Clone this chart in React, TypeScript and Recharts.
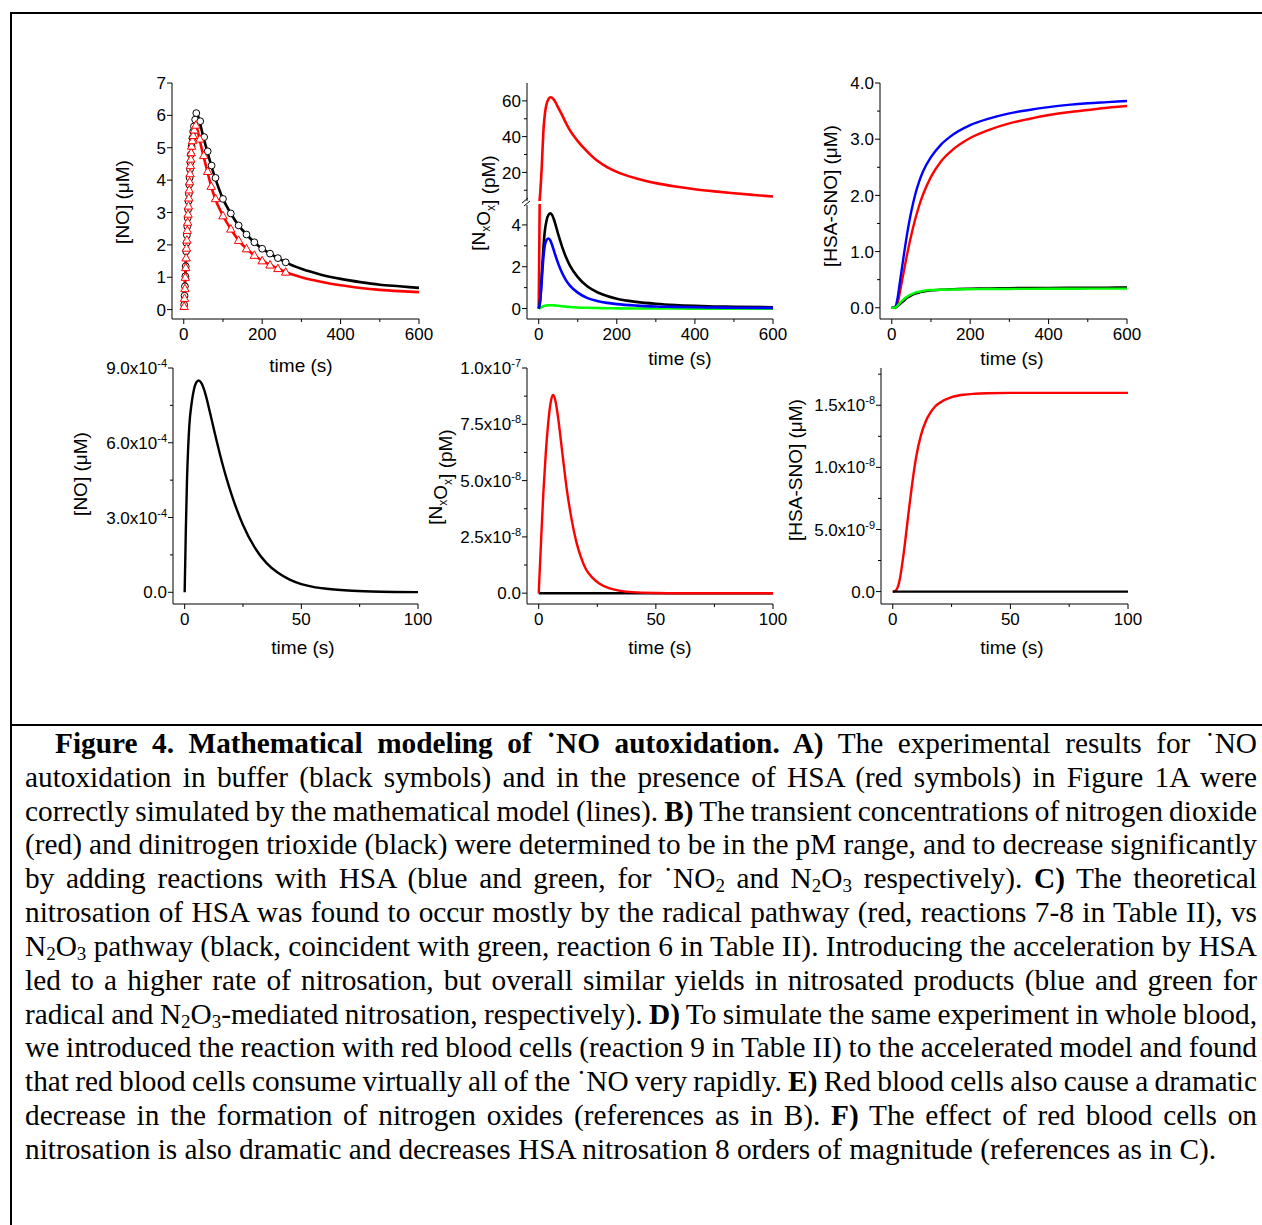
import React from 'react';
import { ComposedChart, Line, Scatter, XAxis, YAxis } from 'recharts';

const SANS = '"Liberation Sans", Arial, sans-serif';
const SERIF = '"Liberation Serif", "Times New Roman", serif';

// ---- Panel A: NO autoxidation, experiment (symbols) + model (lines)
const aLineT = [0, 5, 10, 15, 20, 25, 30, 35, 40, 50, 60, 70, 80, 100, 120, 140, 160, 180, 200, 220, 240, 260, 300, 350, 400, 450, 500, 550, 600];
const aBlackLine = [0, 1.35, 2.85, 4.07, 5.05, 5.6, 5.95, 6.02, 5.82, 5.33, 4.89, 4.45, 4.07, 3.42, 2.97, 2.6, 2.32, 2.08, 1.88, 1.73, 1.59, 1.46, 1.26, 1.08, 0.95, 0.85, 0.77, 0.72, 0.67];
const aRedLine = [0, 1.3, 2.7, 3.95, 5.05, 5.45, 5.68, 5.55, 5.27, 4.76, 4.27, 3.81, 3.43, 2.9, 2.49, 2.14, 1.88, 1.68, 1.51, 1.38, 1.27, 1.16, 1.0, 0.86, 0.75, 0.67, 0.61, 0.57, 0.54];
const aCircT = [1, 2, 3, 4, 5, 6, 7, 8, 9, 10, 11, 12, 13, 14, 15, 16, 17, 18, 20, 22, 24, 26, 29, 32, 42, 52, 61, 71, 81, 100, 120, 140, 160, 180, 200, 220, 240, 260];
const aCircV = [0.15, 0.43, 0.72, 1.03, 1.34, 1.8, 2.06, 2.3, 2.57, 2.83, 3.09, 3.35, 3.58, 3.86, 4.07, 4.33, 4.55, 4.79, 5.05, 5.3, 5.5, 5.66, 5.87, 6.07, 5.82, 5.33, 4.89, 4.45, 4.07, 3.42, 2.97, 2.6, 2.32, 2.08, 1.88, 1.73, 1.59, 1.46];
const aTriT = [1, 2, 3, 4, 5, 6, 7, 8, 9, 10, 11, 12, 13, 14, 15, 16, 17, 18, 19, 20, 22, 24, 27, 31, 41, 51, 61, 70, 81, 100, 120, 140, 160, 180, 200, 220, 240, 260];
const aTriV = [0.1, 0.35, 0.65, 1.0, 1.3, 1.6, 1.9, 2.15, 2.45, 2.7, 2.95, 3.2, 3.45, 3.7, 3.95, 4.2, 4.45, 4.65, 4.85, 5.05, 5.22, 5.38, 5.55, 5.7, 5.27, 4.76, 4.27, 3.81, 3.43, 2.9, 2.49, 2.14, 1.88, 1.68, 1.51, 1.38, 1.27, 1.16];

// ---- Panel B: NO2 / N2O3 (pM), broken axis
const bRedT = [0, 2, 4, 6, 8, 10, 12, 15, 18, 22, 26, 30, 35, 40, 50, 60, 70, 80, 100, 125, 150, 175, 200, 250, 300, 350, 400, 450, 500, 550, 600];
const bRed = [0, 4, 9, 16, 24, 34, 43, 51, 56, 59.5, 61.3, 62, 61.6, 60.3, 56.2, 52, 47.5, 43.5, 37.5, 31.5, 26.5, 23, 20.3, 16.6, 14, 12.1, 10.6, 9.4, 8.35, 7.4, 6.5];
const bT = [0, 3, 6, 9, 12, 15, 20, 25, 30, 35, 40, 50, 60, 70, 80, 100, 125, 150, 175, 200, 250, 300, 350, 400, 450, 500, 600];
const bBlack = [0, 0.3, 1.0, 2.0, 2.9, 3.6, 4.2, 4.48, 4.55, 4.45, 4.2, 3.55, 2.95, 2.45, 2.05, 1.5, 1.05, 0.78, 0.6, 0.47, 0.32, 0.23, 0.17, 0.13, 0.1, 0.085, 0.06];
const bBlue = [0, 0.25, 0.85, 1.7, 2.45, 2.95, 3.28, 3.35, 3.25, 3.0, 2.7, 2.15, 1.7, 1.35, 1.1, 0.76, 0.5, 0.36, 0.27, 0.21, 0.14, 0.1, 0.08, 0.06, 0.05, 0.04, 0.03];
const bGreen = [0, 0.02, 0.05, 0.08, 0.11, 0.13, 0.15, 0.16, 0.16, 0.155, 0.15, 0.13, 0.11, 0.09, 0.075, 0.05, 0.035, 0.025, 0.015, 0.01, 0.005, 0, 0, -0.005, -0.01, -0.01, -0.01];

// ---- Panel C: HSA-SNO (uM)
const cT = [0, 5, 10, 15, 20, 30, 40, 50, 60, 70, 80, 100, 125, 150, 200, 250, 300, 350, 400, 450, 500, 550, 600];
const cBlue = [0, 0, 0.03, 0.18, 0.42, 0.9, 1.35, 1.72, 2.02, 2.25, 2.43, 2.68, 2.9, 3.05, 3.25, 3.37, 3.46, 3.52, 3.57, 3.61, 3.64, 3.66, 3.68];
const cRed = [0, 0, 0.01, 0.08, 0.25, 0.62, 0.98, 1.3, 1.58, 1.82, 2.02, 2.33, 2.6, 2.78, 3.02, 3.17, 3.28, 3.36, 3.43, 3.48, 3.52, 3.56, 3.59];
const cBlack = [0, 0, 0.005, 0.03, 0.06, 0.12, 0.18, 0.22, 0.25, 0.27, 0.29, 0.31, 0.32, 0.33, 0.34, 0.345, 0.35, 0.352, 0.354, 0.356, 0.358, 0.359, 0.36];
const cGreen = [0, 0, 0.01, 0.04, 0.08, 0.15, 0.2, 0.24, 0.27, 0.285, 0.3, 0.315, 0.32, 0.325, 0.33, 0.333, 0.335, 0.337, 0.338, 0.339, 0.34, 0.34, 0.34];

// ---- Panel D: NO with red blood cells
const dT = [0, 0.5, 1, 1.5, 2, 3, 4, 5, 6, 7, 8, 9, 10, 11, 12, 13, 14, 15, 16, 18, 20, 25, 30, 35, 40, 45, 50, 55, 60, 70, 80, 90, 100];
const dNO = [0, 2.5e-4, 4.5e-4, 5.8e-4, 6.7e-4, 7.6e-4, 8.15e-4, 8.42e-4, 8.5e-4, 8.42e-4, 8.22e-4, 7.92e-4, 7.55e-4, 7.15e-4, 6.75e-4, 6.35e-4, 5.96e-4, 5.58e-4, 5.22e-4, 4.55e-4, 3.95e-4, 2.7e-4, 1.8e-4, 1.18e-4, 0.78e-4, 0.51e-4, 0.33e-4, 0.22e-4, 0.15e-4, 0.07e-4, 0.03e-4, 0.012e-4, 0.005e-4];

// ---- Panel E: NxOx with red blood cells
const eT = [0, 1, 2, 3, 4, 5, 6, 7, 8, 9, 10, 12, 14, 16, 18, 20, 23, 26, 30, 35, 40, 50, 60, 80, 100];
const eRed = [0, 2.3e-8, 4.5e-8, 6.2e-8, 7.5e-8, 8.4e-8, 8.8e-8, 8.6e-8, 8.0e-8, 7.2e-8, 6.3e-8, 4.6e-8, 3.3e-8, 2.3e-8, 1.6e-8, 1.1e-8, 0.68e-8, 0.42e-8, 0.22e-8, 0.1e-8, 0.045e-8, 0.01e-8, 0, 0, 0];
const eBlackT = [0, 100];
const eBlack = [0, 0];

// ---- Panel F: HSA-SNO with red blood cells
const fT = [0, 1, 2, 3, 4, 5, 6, 7, 8, 9, 10, 12, 14, 16, 18, 20, 25, 30, 35, 40, 50, 60, 80, 100];
const fRed = [0, 0.005e-8, 0.03e-8, 0.1e-8, 0.22e-8, 0.36e-8, 0.52e-8, 0.68e-8, 0.83e-8, 0.97e-8, 1.09e-8, 1.26e-8, 1.37e-8, 1.44e-8, 1.49e-8, 1.52e-8, 1.565e-8, 1.585e-8, 1.593e-8, 1.597e-8, 1.6e-8, 1.6e-8, 1.6e-8, 1.6e-8];
const fBlackT = [0, 100];
const fBlack = [0, 0];

// ---- ticks
const x600Ticks = [0, 200, 400, 600];
const x600Labels = ['0', '200', '400', '600'];
const x600Minor = [100, 300, 500];
const x100Ticks = [0, 50, 100];
const x100Labels = ['0', '50', '100'];
const x100Minor = [25, 75];

const aYTicks = [0, 1, 2, 3, 4, 5, 6, 7];
const aYLabels = ['0', '1', '2', '3', '4', '5', '6', '7'];
const bUpTicks = [20, 40, 60];
const bUpLabels = ['20', '40', '60'];
const bUpMinor = [10, 30, 50];
const bLoTicks = [0, 2, 4];
const bLoLabels = ['0', '2', '4'];
const bLoMinor = [1, 3];
const cYTicks = [0, 1, 2, 3, 4];
const cYLabels = ['0.0', '1.0', '2.0', '3.0', '4.0'];
const cYMinor = [0.5, 1.5, 2.5, 3.5];
const dYTicks = [0, 3e-4, 6e-4, 9e-4];
const dYLabels = ['0.0', '3.0x10^-4', '6.0x10^-4', '9.0x10^-4'];
const dYMinor = [1.5e-4, 4.5e-4, 7.5e-4];
const eYTicks = [0, 2.5e-8, 5e-8, 7.5e-8, 1e-7];
const eYLabels = ['0.0', '2.5x10^-8', '5.0x10^-8', '7.5x10^-8', '1.0x10^-7'];
const eYMinor = [1.25e-8, 3.75e-8, 6.25e-8, 8.75e-8];
const fYTicks = [0, 5e-9, 1e-8, 1.5e-8];
const fYLabels = ['0.0', '5.0x10^-9', '1.0x10^-8', '1.5x10^-8'];
const fYMinor = [2.5e-9, 7.5e-9, 1.25e-8, 1.75e-8];

const pts = (t: number[], v: number[]) => t.map((x, i) => ({ t: x, v: v[i] }));

type Ax = { ticks: number[]; labels: string[]; minor: number[] };

const TICK_FS = 17;

const TickText = ({ text, ...rest }: any) => {
  const [base, exp] = text.split('^');
  return (
    <text {...rest} fontFamily={SANS} fontSize={TICK_FS} fill="#000">
      {base}
      {exp && (
        <tspan dy={-7} fontSize={11}>
          {exp}
        </tspan>
      )}
    </text>
  );
};

const findLabel = (ax: Ax, v: number) => {
  const i = ax.ticks.findIndex((m) => Math.abs(m - v) <= Math.abs(m) * 1e-9 + 1e-300);
  return i >= 0 ? ax.labels[i] : null;
};

const yTick = (ax: Ax) => (p: any) => {
  const lab = findLabel(ax, p.payload.value);
  const len = lab !== null ? 5 : 3;
  return (
    <g>
      <line x1={p.x - len} x2={p.x} y1={p.y} y2={p.y} stroke="#000" />
      {lab !== null && <TickText text={lab} x={p.x - 6} y={p.y} dy="0.36em" textAnchor="end" />}
    </g>
  );
};

const xTick = (ax: Ax) => (p: any) => {
  const lab = findLabel(ax, p.payload.value);
  const len = lab !== null ? 5 : 3;
  return (
    <g>
      <line x1={p.x} x2={p.x} y1={p.y} y2={p.y + len} stroke="#000" />
      {lab !== null && <TickText text={lab} x={p.x} y={p.y + 15} dy="0.36em" textAnchor="middle" />}
    </g>
  );
};

const Circle = (p: any) => <circle cx={p.cx} cy={p.cy} r={3.4} fill="#fff" stroke="#000" strokeWidth={1} />;
const Tri = (p: any) => (
  <polygon
    points={`${p.cx},${p.cy - 4.4} ${p.cx - 4.2},${p.cy + 3.1} ${p.cx + 4.2},${p.cy + 3.1}`}
    fill="#fff"
    stroke="#f00"
    strokeWidth={1}
  />
);

type PanelProps = {
  x: number;
  y: number;
  w: number;
  h: number;
  xDom: number[];
  yDom: number[];
  xAx?: Ax;
  yAx: Ax;
  children: React.ReactNode;
};

const ML = 110;
const MT = 10;
const MR = 26;

function Panel({ x, y, w, h, xDom, yDom, xAx, yAx, children }: PanelProps) {
  const MB = xAx ? 40 : 0;
  return (
    <div style={{ position: 'absolute', left: x - ML, top: y - MT }}>
      <ComposedChart width={w + ML + MR} height={h + MT + MB} margin={{ top: MT, right: MR, bottom: 0, left: 0 }}>
        <XAxis
          type="number"
          dataKey="t"
          domain={xDom}
          allowDataOverflow
          hide={!xAx}
          height={MB}
          ticks={xAx ? [...xAx.ticks, ...xAx.minor].sort((a, b) => a - b) : undefined}
          interval={0}
          tickSize={0}
          tickMargin={0}
          tickLine={false}
          axisLine={{ stroke: '#000', strokeWidth: 1 }}
          tick={xAx ? xTick(xAx) : false}
        />
        <YAxis
          type="number"
          domain={yDom}
          allowDataOverflow
          width={ML}
          ticks={[...yAx.ticks, ...yAx.minor].sort((a, b) => a - b)}
          interval={0}
          tickSize={0}
          tickMargin={0}
          tickLine={false}
          axisLine={{ stroke: '#000', strokeWidth: 1 }}
          tick={yTick(yAx)}
        />
        {children}
      </ComposedChart>
    </div>
  );
}

const ln = (data: { t: number; v: number }[], color: string, w = 2.4) => (
  <Line
    data={data}
    dataKey="v"
    type="monotone"
    stroke={color}
    strokeWidth={w}
    dot={false}
    activeDot={false}
    isAnimationActive={false}
  />
);

const x600: Ax = { ticks: x600Ticks, labels: x600Labels, minor: x600Minor };
const x100: Ax = { ticks: x100Ticks, labels: x100Labels, minor: x100Minor };

const YTitle = ({ x, y, children }: any) => (
  <text transform={`translate(${x},${y}) rotate(-90)`} textAnchor="middle" dy="0.36em" fontFamily={SANS} fontSize={19} fill="#000">
    {children}
  </text>
);
const XTitle = ({ x, y }: any) => (
  <text x={x} y={y} textAnchor="middle" dy="0.36em" fontFamily={SANS} fontSize={19} fill="#000">
    time (s)
  </text>
);
const Sub = ({ c }: { c: string }) => (
  <>
    <tspan dy={5} fontSize={12}>
      {c}
    </tspan>
    <tspan dy={-5}>{''}</tspan>
  </>
);

const B = ({ children }: any) => <b>{children}</b>;
const S = ({ children }: any) => (
  <sub style={{ fontSize: '0.65em', verticalAlign: '-0.22em', lineHeight: 0 }}>{children}</sub>
);
// radical dot kept glued to NO so justification does not split them
const RNO = () => <span style={{ display: 'inline-block', textIndent: 0 }}>{'\u02D9'}NO</span>;

const captionLines: React.ReactNode[] = [
  <>
    <B>
      Figure 4. Mathematical modeling of <RNO /> autoxidation. A)
    </B>{' '}
    The experimental results for <RNO />
  </>,
  <>autoxidation in buffer (black symbols) and in the presence of HSA (red symbols) in Figure 1A were</>,
  <>
    correctly simulated by the mathematical model (lines). <B>B)</B> The transient concentrations of nitrogen dioxide
  </>,
  <>(red) and dinitrogen trioxide (black) were determined to be in the pM range, and to decrease significantly</>,
  <>
    by adding reactions with HSA (blue and green, for{' '}
    <span style={{ display: 'inline-block', textIndent: 0 }}>
      {'\u02D9'}NO<S>2</S>
    </span>{' '}
    and N<S>2</S>O<S>3</S> respectively). <B>C)</B> The theoretical
  </>,
  <>nitrosation of HSA was found to occur mostly by the radical pathway (red, reactions 7-8 in Table II), vs</>,
  <>
    N<S>2</S>O<S>3</S> pathway (black, coincident with green, reaction 6 in Table II). Introducing the acceleration by HSA
  </>,
  <>led to a higher rate of nitrosation, but overall similar yields in nitrosated products (blue and green for</>,
  <>
    radical and N<S>2</S>O<S>3</S>-mediated nitrosation, respectively). <B>D)</B> To simulate the same experiment in whole blood,
  </>,
  <>we introduced the reaction with red blood cells (reaction 9 in Table II) to the accelerated model and found</>,
  <>
    that red blood cells consume virtually all of the <RNO /> very rapidly. <B>E)</B> Red blood cells also cause a dramatic
  </>,
  <>
    decrease in the formation of nitrogen oxides (references as in B). <B>F)</B> The effect of red blood cells on
  </>,
  <>nitrosation is also dramatic and decreases HSA nitrosation 8 orders of magnitude (references as in C).</>,
];

export default function App() {
  return (
    <div style={{ position: 'absolute', left: 0, top: 0, width: 1262, height: 1225, background: '#fff', overflow: 'hidden' }}>
      {/* frame */}
      <div style={{ position: 'absolute', left: 10, top: 12, width: 1252, height: 2, background: '#000' }} />
      <div style={{ position: 'absolute', left: 10, top: 12, width: 2, height: 1213, background: '#000' }} />
      <div style={{ position: 'absolute', left: 10, top: 724, width: 1252, height: 2, background: '#000' }} />

      {/* A */}
      <Panel x={172} y={83} w={247} h={236} xDom={[-30, 600]} yDom={[-0.29, 7]} xAx={x600} yAx={{ ticks: aYTicks, labels: aYLabels, minor: [] }}>
        {ln(pts(aLineT, aBlackLine), '#000', 2.6)}
        {ln(pts(aLineT, aRedLine), '#f00', 2.6)}
        <Scatter data={pts(aCircT, aCircV)} dataKey="v" shape={Circle} isAnimationActive={false} />
        <Scatter data={pts(aTriT, aTriV)} dataKey="v" shape={Tri} isAnimationActive={false} />
      </Panel>

      {/* B upper */}
      <Panel x={527} y={83} w={246} h={118} xDom={[-30, 600]} yDom={[4, 70]} yAx={{ ticks: bUpTicks, labels: bUpLabels, minor: bUpMinor }}>
        {ln(pts(bRedT, bRed), '#f00', 2.6)}
      </Panel>
      {/* B lower */}
      <Panel x={527} y={204} w={246} h={115} xDom={[-30, 600]} yDom={[-0.5, 5]} xAx={x600} yAx={{ ticks: bLoTicks, labels: bLoLabels, minor: bLoMinor }}>
        {ln(pts(bRedT, bRed), '#f00', 2.6)}
        {ln(pts(bT, bGreen), '#0f0', 2.6)}
        {ln(pts(bT, bBlack), '#000', 2.6)}
        {ln(pts(bT, bBlue), '#00f', 2.6)}
      </Panel>

      {/* C */}
      <Panel x={880} y={83} w={247} h={236} xDom={[-30, 600]} yDom={[-0.2, 4]} xAx={x600} yAx={{ ticks: cYTicks, labels: cYLabels, minor: cYMinor }}>
        {ln(pts(cT, cRed), '#f00', 2.4)}
        {ln(pts(cT, cBlue), '#00f', 2.4)}
        {ln(pts(cT, cBlack), '#000', 2.4)}
        {ln(pts(cT, cGreen), '#0f0', 2.4)}
      </Panel>

      {/* D */}
      <Panel x={173} y={368} w={245} h={236} xDom={[-5, 100]} yDom={[-0.47e-4, 9e-4]} xAx={x100} yAx={{ ticks: dYTicks, labels: dYLabels, minor: dYMinor }}>
        {ln(pts(dT, dNO), '#000', 2.4)}
      </Panel>

      {/* E */}
      <Panel x={527} y={368} w={246} h={236} xDom={[-5, 100]} yDom={[-0.48e-8, 1e-7]} xAx={x100} yAx={{ ticks: eYTicks, labels: eYLabels, minor: eYMinor }}>
        {ln(pts(eBlackT, eBlack), '#000', 2.4)}
        {ln(pts(eT, eRed), '#f00', 2.4)}
      </Panel>

      {/* F */}
      <Panel x={881} y={368} w={247} h={236} xDom={[-5, 100]} yDom={[-0.1e-8, 1.8e-8]} xAx={x100} yAx={{ ticks: fYTicks, labels: fYLabels, minor: fYMinor }}>
        {ln(pts(fT, fRed), '#f00', 2.4)}
        {ln(pts(fBlackT, fBlack), '#000', 2.4)}
      </Panel>

      {/* axis titles and break mark */}
      <svg width={1262} height={720} style={{ position: 'absolute', left: 0, top: 0, pointerEvents: 'none' }}>
        <rect x={524} y={201} width={7} height={4} fill="#fff" />
        <line x1={522} y1={203} x2={528} y2={198} stroke="#000" />
        <line x1={524} y1={206} x2={530} y2={201} stroke="#000" />

        <YTitle x={122} y={202}>[NO] (μM)</YTitle>
        <YTitle x={478} y={203}>
          [N<Sub c="x" />O<Sub c="x" />] (pM)
        </YTitle>
        <YTitle x={830} y={196}>[HSA-SNO] (μM)</YTitle>
        <YTitle x={80} y={474}>[NO] (μM)</YTitle>
        <YTitle x={435} y={477}>
          [N<Sub c="x" />O<Sub c="x" />] (pM)
        </YTitle>
        <YTitle x={795} y={470}>[HSA-SNO] (μM)</YTitle>

        <XTitle x={301} y={365} />
        <XTitle x={680} y={358} />
        <XTitle x={1012} y={358} />
        <XTitle x={303} y={647} />
        <XTitle x={660} y={647} />
        <XTitle x={1012} y={647} />
      </svg>

      {/* caption */}
      <div
        style={{
          position: 'absolute',
          left: 25,
          top: 727,
          width: 1232,
          fontFamily: SERIF,
          fontSize: 29.3,
          lineHeight: '33.83px',
          color: '#000',
        }}
      >
        {captionLines.map((l, i) => {
          const last = i === captionLines.length - 1;
          return (
            <div
              key={i}
              style={{
                whiteSpace: 'nowrap',
                textAlign: 'justify',
                textAlignLast: last ? 'left' : 'justify',
                textIndent: i === 0 ? 30 : 0,
                wordSpacing: last ? 0 : -2.5,
                height: 33.83,
              }}
            >
              {l}
            </div>
          );
        })}
      </div>
    </div>
  );
}
